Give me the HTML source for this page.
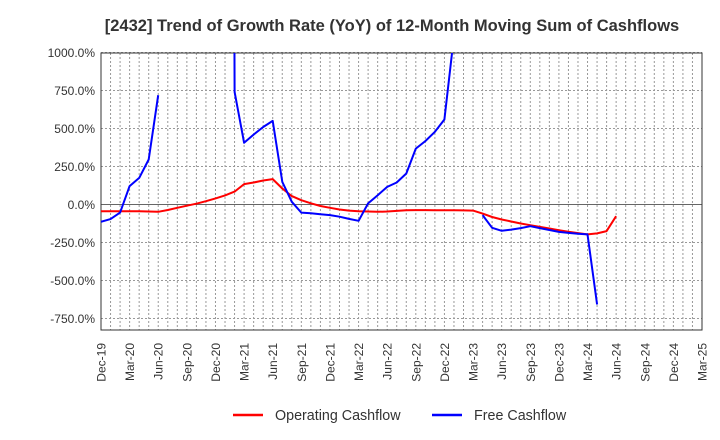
<!DOCTYPE html>
<html><head><meta charset="utf-8"><style>
body{margin:0;background:#fff;}
svg{display:block;font-family:"Liberation Sans",Arial,sans-serif;}
</style></head><body>
<svg id="c" width="720" height="440">
<text x="392" y="31" text-anchor="middle" font-size="16.5" font-weight="bold" fill="#333">[2432]  Trend of Growth Rate (YoY) of 12-Month Moving Sum of Cashflows</text>
<defs><clipPath id="pc"><rect x="101" y="53" width="601" height="277"/></clipPath></defs>
<g id="grid"></g><g id="axes"></g>
<g clip-path="url(#pc)" id="series"></g>
<g>
<line x1="233" y1="415" x2="263" y2="415" stroke="#f00" stroke-width="2.5"/>
<text x="275" y="420" font-size="14.3" fill="#333">Operating Cashflow</text>
<line x1="432" y1="415" x2="462" y2="415" stroke="#00f" stroke-width="2.5"/>
<text x="474" y="420" font-size="14.3" fill="#333">Free Cashflow</text>
</g>
</svg>
<script>
const xLabels=["Dec-19","Mar-20","Jun-20","Sep-20","Dec-20","Mar-21","Jun-21","Sep-21","Dec-21","Mar-22","Jun-22","Sep-22","Dec-22","Mar-23","Jun-23","Sep-23","Dec-23","Mar-24","Jun-24","Sep-24","Dec-24","Mar-25"];
const yTicks=[1000,750,500,250,0,-250,-500,-750];
const operating=[-44,-44,-44,-44,-45,-46,-48,-36,-22,-8,5,22,40,60,85,134,145,158,167,105,55,28,8,-10,-22,-33,-40,-44,-46,-48,-46,-42,-38,-37,-37,-38,-38,-38,-39,-40,-60,-82,-99,-112,-125,-136,-147,-158,-169,-179,-188,-197,-190,-175,-77];
const free=[-114,-96,-53,121,175,296,719,null,null,null,null,null,null,20000,741,406,460,510,550,149,18,-53,-58,-64,-70,-80,-95,-107,7,61,116,145,204,368,417,478,559,1110,null,null,-70,-153,-173,-165,-155,-143,-155,-168,-180,-187,-192,-197,-658];
const NS="http://www.w3.org/2000/svg";
const X0=101,X1=702,Y0=204.5,PX=38/250;
const xs=i=>X0+i*(X1-X0)/63;
const ys=v=>Y0-v*PX;
function mk(t,a,p){const e=document.createElementNS(NS,t);for(const k in a)e.setAttribute(k,a[k]);p.appendChild(e);return e;}
const grid=document.getElementById('grid'),axes=document.getElementById('axes'),ser=document.getElementById('series');
mk('rect',{x:X0,y:53,width:X1-X0,height:277,fill:'#fff',stroke:'none'},grid);
for(let i=1;i<63;i++){const l=mk('line',{x1:xs(i),x2:xs(i),y1:53,y2:330,stroke:'#999','stroke-dasharray':'2,2','stroke-width':1},grid);

}
yTicks.forEach(v=>{const y=ys(v);
const l=mk('line',{x1:X0,x2:X1,y1:y,y2:y,stroke:v===0?'#666':'#999','stroke-dasharray':v===0?'':'2,2','stroke-width':1},grid);


const t=mk('text',{x:X0-6,y:y+4.5,'text-anchor':'end','font-size':12,fill:'#333'},axes);
t.textContent=v.toFixed(1)+'%';

});
const fr=mk('rect',{x:X0,y:53,width:X1-X0,height:277,fill:'none',stroke:'#333','stroke-width':1},axes);


xLabels.forEach((s,k)=>{const x=xs(k*3);
const t=mk('text',{x:0,y:0,transform:`translate(${x+4.5},343) rotate(-90)`,'text-anchor':'end','font-size':12,fill:'#333'},axes);
t.textContent=s;

});
function line(data,color,name){let segs=[],cur=[];
data.forEach((v,i)=>{if(v===null){if(cur.length)segs.push(cur);cur=[];}else cur.push(xs(i).toFixed(1)+','+ys(v).toFixed(1));});
if(cur.length)segs.push(cur);
segs.forEach(s=>{const p=mk('polyline',{points:s.join(' '),fill:'none',stroke:color,'stroke-width':2,'stroke-linejoin':'round'},ser);

});}
line(operating,'#f00','operating-cashflow-line');
line(free,'#00f','free-cashflow-line');
</script>
</body></html>
